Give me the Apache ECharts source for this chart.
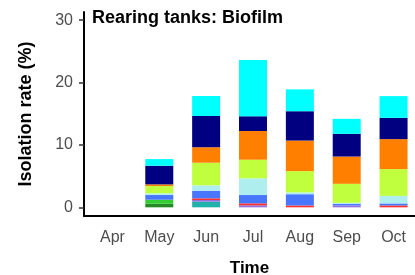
<!DOCTYPE html>
<html>
<head>
<meta charset="utf-8">
<script src="https://cdn.jsdelivr.net/npm/echarts@6/dist/echarts.min.js"></script>
<style>
  html, body { margin: 0; padding: 0; background: #fff; }
  #chart { width: 415px; height: 275px; }
</style>
</head>
<body>
<div id="chart"></div>
<script>
// months on the x axis
var months = ["Apr", "May", "Jun", "Jul", "Aug", "Sep", "Oct"];
var yTicks = [0, 10, 20, 30];

// isolation rate (%) per group, bottom of stack first
var grpForest = [0, 0.58, 0, 0, 0, 0, 0];
var grpLime = [0, 0.64, 0, 0, 0, 0, 0];
var grpTeal = [0, 0, 0.9, 0, 0, 0, 0];
var grpPurple = [0, 0, 0.27, 0.32, 0, 0.3, 0];
var grpRed = [0, 0, 0.27, 0.32, 0.3, 0, 0.3];
var grpBlue = [0, 0.75, 1.22, 1.33, 1.8, 0.27, 0.32];
var grpPaleTurq = [0, 0.27, 0.87, 2.68, 0.3, 0.16, 1.22];
var grpGreenYellow = [0, 1.17, 3.62, 2.98, 3.4, 3.04, 4.28];
var grpOrange = [0, 0.27, 2.47, 4.6, 4.9, 4.37, 4.81];
var grpNavy = [0, 2.98, 5.02, 2.36, 4.7, 3.64, 3.41];
var grpCyan = [0, 1.07, 3.2, 9.02, 3.5, 2.4, 3.48];

var groups = [
  { name: "G1", data: grpForest, color: "#228B22" },
  { name: "G2", data: grpLime, color: "#32CD32" },
  { name: "G3", data: grpTeal, color: "#20B2AA" },
  { name: "G4", data: grpPurple, color: "#9370DB" },
  { name: "G5", data: grpRed, color: "#FF3030" },
  { name: "G6", data: grpBlue, color: "#4876FF" },
  { name: "G7", data: grpPaleTurq, color: "#AEEEEE" },
  { name: "G8", data: grpGreenYellow, color: "#C0FF3E" },
  { name: "G9", data: grpOrange, color: "#FF8000" },
  { name: "G10", data: grpNavy, color: "#000080" },
  { name: "G11", data: grpCyan, color: "#00FFFF" }
];

var yMin = -1.39, yMax = 31.3;
var font = "Liberation Sans";

var chart = echarts.init(document.getElementById("chart"));

var option = {
  animation: false,
  title: {
    text: "Rearing tanks: Biofilm",
    left: 92,
    top: 9,
    padding: 0,
    textStyle: { fontFamily: font, fontSize: 18, fontWeight: "bold", color: "#000" }
  },
  // grid 0 carries the axis lines, grid 1 the bars (ggplot style expansion)
  grid: [
    { left: 84, right: 0, top: 12, bottom: 59, outerBoundsMode: "none", containLabel: false },
    { left: 89, width: 328, top: 12, bottom: 59, outerBoundsMode: "none", containLabel: false }
  ],
  xAxis: [
    {
      type: "value", gridIndex: 0, min: 0, max: 1,
      name: "Time", nameLocation: "middle", nameGap: 44,
      nameTextStyle: { fontFamily: font, fontSize: 17, fontWeight: "bold", color: "#000" },
      axisLine: { onZero: false, lineStyle: { color: "#000", width: 2 } },
      axisTick: { show: false }, axisLabel: { show: false }, splitLine: { show: false }
    },
    {
      type: "category", gridIndex: 1, data: months,
      axisLine: { show: false },
      axisTick: { alignWithLabel: true, length: 5, lineStyle: { color: "#333", width: 1.5 } },
      axisLabel: { margin: 14, fontFamily: font, fontSize: 16, color: "#4D4D4D" },
      splitLine: { show: false }
    }
  ],
  yAxis: [
    {
      type: "value", gridIndex: 0, min: yMin, max: yMax,
      name: "Isolation rate (%)", nameLocation: "middle", nameGap: 49, nameRotate: 90,
      nameTextStyle: { fontFamily: font, fontSize: 18, fontWeight: "bold", color: "#000" },
      axisLine: { show: true, onZero: false, lineStyle: { color: "#000", width: 2 } },
      axisTick: { show: true, length: 5, customValues: yTicks, lineStyle: { color: "#333", width: 1.5 } },
      axisLabel: { margin: 11, customValues: yTicks, fontFamily: font, fontSize: 16, color: "#4D4D4D" },
      splitLine: { show: false }
    },
    {
      type: "value", gridIndex: 1, min: yMin, max: yMax, show: false
    }
  ],
  series: groups.map(function (g) {
    return {
      name: g.name,
      type: "bar",
      stack: "total",
      xAxisIndex: 1,
      yAxisIndex: 1,
      barWidth: 28,
      data: g.data,
      itemStyle: { color: g.color }
    };
  })
};

chart.setOption(option);
</script>
</body>
</html>
